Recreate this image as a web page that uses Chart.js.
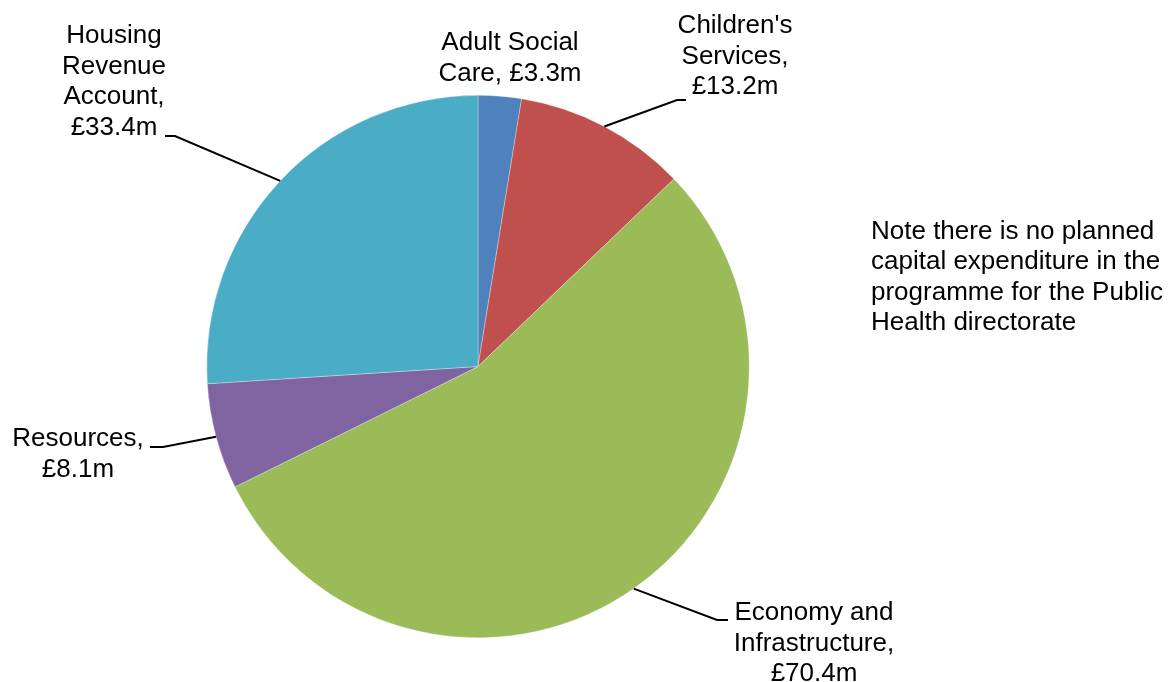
<!DOCTYPE html>
<html>
<head>
<meta charset="utf-8">
<title>Capital programme by directorate</title>
<script src="https://cdn.jsdelivr.net/npm/chart.js@4"></script>
<style>
  html, body { margin: 0; padding: 0; background: #fff; }
  canvas { display: block; }
</style>
</head>
<body>
<canvas id="capitalPie" width="1171" height="682"></canvas>
<script>
// capital programme by directorate (£m)
const directorates = ['Adult Social Care', "Children's Services", 'Economy and Infrastructure', 'Resources', 'Housing Revenue Account'];
const spend = [3.3, 13.2, 70.4, 8.1, 33.4];
const sliceColours = ['#4F81BD', '#C0504D', '#9BBB59', '#8064A2', '#4BACC6'];
const noteLines = ['Note there is no planned', 'capital expenditure in the', 'programme for the Public', 'Health directorate'];

// how each label is wrapped and where it sits
const labelLayout = [
  { name: ['Adult Social', 'Care'], valueOwnLine: false, cx: 510, y: 50, leader: null },
  { name: ["Children's", 'Services'], valueOwnLine: true, cx: 735, y: 33, leader: [677, 100, 686] },
  { name: ['Economy and', 'Infrastructure'], valueOwnLine: true, cx: 814, y: 620, leader: [717, 620, 728] },
  { name: ['Resources'], valueOwnLine: true, cx: 78, y: 446, leader: [163, 447, 150] },
  { name: ['Housing', 'Revenue', 'Account'], valueOwnLine: true, cx: 114, y: 43, leader: [175, 136, 165] }
];

const FONT = '26px "Liberation Sans", Arial, sans-serif';
const LINE_H = 30.7;

function labelLines(i) {
  const lay = labelLayout[i];
  const money = '£' + spend[i].toFixed(1) + 'm';
  const lines = lay.name.slice();
  lines[lines.length - 1] += ',';
  if (lay.valueOwnLine) lines.push(money);
  else lines[lines.length - 1] += ' ' + money;
  return lines;
}

// draws the category labels, leader lines and the side note
const sliceLabels = {
  id: 'sliceLabels',
  afterDatasetsDraw(chart) {
    const ctx = chart.ctx;
    const meta = chart.getDatasetMeta(0);
    ctx.save();
    ctx.font = FONT;
    ctx.fillStyle = '#000';
    ctx.textBaseline = 'alphabetic';

    meta.data.forEach((arc, i) => {
      const lay = labelLayout[i];
      const p = arc.getProps(['x', 'y', 'startAngle', 'endAngle', 'outerRadius'], true);

      if (lay.leader) {
        const mid = (p.startAngle + p.endAngle) / 2;
        const sx = p.x + Math.cos(mid) * p.outerRadius;
        const sy = p.y + Math.sin(mid) * p.outerRadius;
        ctx.beginPath();
        ctx.moveTo(sx, sy);
        ctx.lineTo(lay.leader[0], lay.leader[1]);
        ctx.lineTo(lay.leader[2], lay.leader[1]);
        ctx.strokeStyle = '#000';
        ctx.lineWidth = 2;
        ctx.stroke();
      }

      ctx.textAlign = 'center';
      labelLines(i).forEach((line, k) => {
        ctx.fillText(line, lay.cx, lay.y + k * LINE_H);
      });
    });

    ctx.textAlign = 'left';
    noteLines.forEach((line, k) => {
      ctx.fillText(line, 871, 239 + k * 30.4);
    });
    ctx.restore();
  }
};

const ctx = document.getElementById('capitalPie').getContext('2d');
const chart = new Chart(ctx, {
  type: 'pie',
  data: {
    labels: directorates,
    datasets: [{
      data: spend,
      backgroundColor: sliceColours,
      borderColor: 'rgba(255,255,255,0.6)',
      borderWidth: 0.5
    }]
  },
  options: {
    responsive: false,
    animation: false,
    layout: {
      padding: { left: 206, right: 421, top: 95, bottom: 44 }
    },
    plugins: {
      legend: { display: false },
      tooltip: { enabled: false }
    }
  },
  plugins: [sliceLabels]
});
</script>
</body>
</html>
